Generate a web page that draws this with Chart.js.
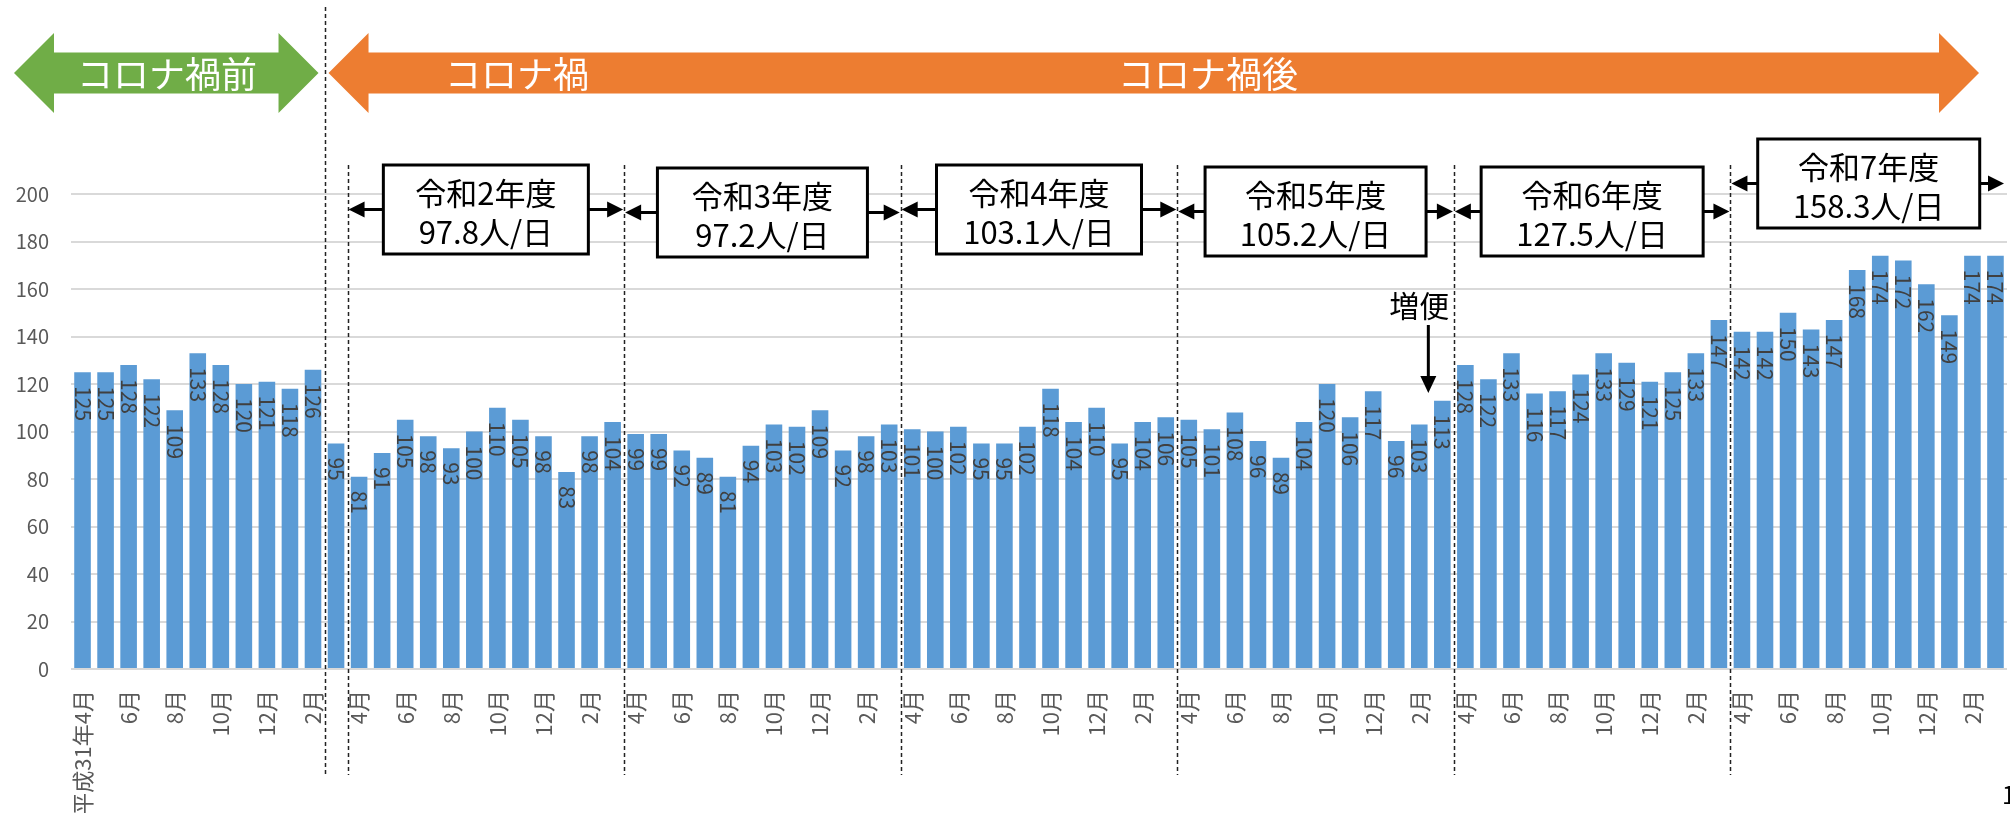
<!DOCTYPE html>
<html lang="ja">
<head>
<meta charset="utf-8">
<title>利用者数の推移</title>
<script src="https://cdn.jsdelivr.net/npm/chart.js@4.4.1/dist/chart.umd.min.js"></script>
<style>
  html, body { margin: 0; padding: 0; background: #fff; }
  #wrap { width: 2010px; height: 813px; }
</style>
</head>
<body>
<div id="wrap"><canvas id="chart" width="2010" height="813"></canvas></div>
<script>
// 月ラベル(年度は4月始まり)
const fyMonths = ["4月", "5月", "6月", "7月", "8月", "9月", "10月", "11月", "12月", "1月", "2月", "3月"];
const firstLabel = "平成31年4月";

// 月別 1日あたり人数
const countsH31 = [125, 125, 128, 122, 109, 133, 128, 120, 121, 118, 126, 95];
const countsR2 = [81, 91, 105, 98, 93, 100, 110, 105, 98, 83, 98, 104];
const countsR3 = [99, 99, 92, 89, 81, 94, 103, 102, 109, 92, 98, 103];
const countsR4 = [101, 100, 102, 95, 95, 102, 118, 104, 110, 95, 104, 106];
const countsR5 = [105, 101, 108, 96, 89, 104, 120, 106, 117, 96, 103, 113];
const countsR6 = [128, 122, 133, 116, 117, 124, 133, 129, 121, 125, 133, 147];
const countsR7 = [142, 142, 150, 143, 147, 168, 174, 172, 162, 149, 174, 174];

// 年度ボックス
const fiscalNames = ["令和2年度", "令和3年度", "令和4年度", "令和5年度", "令和6年度", "令和7年度"];
const fiscalAverages = ["97.8", "97.2", "103.1", "105.2", "127.5", "158.3"];

const periodNames = ["コロナ禍前", "コロナ禍", "コロナ禍後"];
const noteText = "増便";

const yTicks = [0, 20, 40, 60, 80, 100, 120, 140, 160, 180, 200];

const labels = [firstLabel, ...fyMonths.slice(1)];
for (let i = 0; i < 6; i++) labels.push(...fyMonths);
const values = [].concat(countsH31, countsR2, countsR3, countsR4, countsR5, countsR6, countsR7);

const JP = "'Noto Sans CJK JP', 'Noto Sans', sans-serif";
Chart.defaults.font.family = JP;

function arrowHead(ctx, x, y, dir, len, half) {
  // dir: 1 = 右向き, -1 = 左向き
  ctx.beginPath();
  ctx.moveTo(x, y);
  ctx.lineTo(x - dir * len, y - half);
  ctx.lineTo(x - dir * len, y + half);
  ctx.closePath();
  ctx.fill();
}

function bigArrow(ctx, x1, x2, cy, color) {
  const shaft = 20.5, head = 40, hl = 40;
  ctx.fillStyle = color;
  ctx.beginPath();
  ctx.moveTo(x1, cy);
  ctx.lineTo(x1 + hl, cy - head);
  ctx.lineTo(x1 + hl, cy - shaft);
  ctx.lineTo(x2 - hl, cy - shaft);
  ctx.lineTo(x2 - hl, cy - head);
  ctx.lineTo(x2, cy);
  ctx.lineTo(x2 - hl, cy + head);
  ctx.lineTo(x2 - hl, cy + shaft);
  ctx.lineTo(x1 + hl, cy + shaft);
  ctx.lineTo(x1 + hl, cy + head);
  ctx.closePath();
  ctx.fill();
}

const decorations = {
  id: "decorations",
  afterDatasetsDraw(chart) {
    const ctx = chart.ctx;
    const meta = chart.getDatasetMeta(0);
    // データラベル(縦書き回転)
    ctx.save();
    ctx.fillStyle = "#404040";
    ctx.font = "21px " + JP;
    ctx.textAlign = "left";
    ctx.textBaseline = "middle";
    meta.data.forEach((bar, i) => {
      ctx.save();
      ctx.translate(bar.x, bar.y + 14);
      ctx.rotate(Math.PI / 2);
      ctx.fillText(String(values[i]), 0, 0);
      ctx.restore();
    });
    ctx.restore();
  },
  afterDraw(chart) {
    const ctx = chart.ctx;
    const xs = chart.scales.x;
    const area = chart.chartArea;
    const meta = chart.getDatasetMeta(0);
    const edge = (i) => i >= values.length ? area.right : (xs.getPixelForValue(i - 1) + xs.getPixelForValue(i)) / 2;

    ctx.save();
    // 区切り破線
    ctx.strokeStyle = "#222";
    ctx.lineWidth = 1.5;
    ctx.setLineDash([4, 3]);
    const bounds = [11, 12, 24, 36, 48, 60, 72];
    bounds.forEach((b, k) => {
      const x = Math.round(edge(b)) + 0.5;
      ctx.beginPath();
      ctx.moveTo(x, k === 0 ? 7 : 165);
      ctx.lineTo(x, 775);
      ctx.stroke();
    });
    ctx.setLineDash([]);

    // 上部の大きな矢印
    const split = edge(11);
    bigArrow(ctx, 14, split - 6, 73, "#70AD47");
    bigArrow(ctx, split + 4, 1979, 73, "#ED7D31");
    ctx.fillStyle = "#fff";
    ctx.font = "36px " + JP;
    ctx.textAlign = "center";
    ctx.textBaseline = "middle";
    ctx.fillText(periodNames[0], 167, 74);
    ctx.fillText(periodNames[1], 517, 74);
    ctx.fillText(periodNames[2], 1208, 74);

    // 年度ボックス
    const widths = [205, 210, 205, 221, 222, 222];
    const tops = [165, 168, 165, 167, 167, 139];
    const boxH = 89;
    fiscalNames.forEach((name, k) => {
      const s = 12 + k * 12;
      const l = edge(s), r = edge(s + 12);
      const cx = (l + r) / 2;
      const bx = cx - widths[k] / 2, bw = widths[k], by = tops[k];
      const ay = by + boxH / 2;
      const rightTip = k === fiscalNames.length - 1 ? 2005 : r;

      ctx.strokeStyle = "#000";
      ctx.fillStyle = "#000";
      ctx.lineWidth = 3;
      ctx.beginPath();
      ctx.moveTo(bx, ay);
      ctx.lineTo(l + 10, ay);
      ctx.moveTo(bx + bw, ay);
      ctx.lineTo(rightTip - 10, ay);
      ctx.stroke();
      arrowHead(ctx, l + 1, ay, -1, 16, 8);
      arrowHead(ctx, rightTip - 1, ay, 1, 16, 8);

      ctx.fillStyle = "#fff";
      ctx.fillRect(bx, by, bw, boxH);
      ctx.strokeRect(bx, by, bw, boxH);

      ctx.fillStyle = "#000";
      ctx.font = "31px " + JP;
      ctx.textAlign = "center";
      ctx.textBaseline = "middle";
      ctx.fillText(name, cx, by + 28);
      ctx.fillText(fiscalAverages[k] + "人/日", cx, by + 67);
    });

    // 増便
    const target = meta.data[59];
    const ax = target.x - 14;
    ctx.fillStyle = "#000";
    ctx.font = "30px " + JP;
    ctx.textAlign = "center";
    ctx.textBaseline = "middle";
    ctx.fillText(noteText, target.x - 23, 306);
    ctx.strokeStyle = "#000";
    ctx.lineWidth = 3;
    ctx.beginPath();
    ctx.moveTo(ax, 325);
    ctx.lineTo(ax, 380);
    ctx.stroke();
    ctx.save();
    ctx.translate(ax, 393);
    ctx.rotate(Math.PI / 2);
    arrowHead(ctx, 0, 0, 1, 17, 8);
    ctx.restore();

    // ページ番号
    ctx.font = "24px " + JP;
    ctx.textAlign = "left";
    ctx.fillText("1", 2002, 795);
    ctx.restore();
  }
};

new Chart(document.getElementById("chart"), {
  type: "bar",
  data: {
    labels,
    datasets: [{
      data: values,
      backgroundColor: "#5B9BD5",
      borderWidth: 0,
      categoryPercentage: 1,
      barPercentage: 0.72
    }]
  },
  options: {
    responsive: false,
    animation: false,
    devicePixelRatio: 1,
    layout: { padding: { top: 194, right: 3, left: 0, bottom: 0 } },
    plugins: { legend: { display: false }, tooltip: { enabled: false } },
    scales: {
      x: {
        grid: { display: false, drawTicks: false },
        border: { display: false },
        ticks: {
          autoSkip: false,
          minRotation: 90,
          maxRotation: 90,
          padding: 21,
          color: "#595959",
          font: { size: 22 },
          callback(value, index) {
            return index % 2 === 0 ? this.getLabelForValue(value) : "";
          }
        },
        afterFit(scale) {
          scale.height = 144;
          scale.paddingLeft = 0;
          scale.paddingRight = 0;
        }
      },
      y: {
        min: 0,
        max: 200,
        afterBuildTicks(scale) { scale.ticks = yTicks.map(v => ({ value: v })); },
        ticks: { padding: 22, color: "#595959", font: { size: 20 } },
        grid: { color: "#D9D9D9", lineWidth: 2, drawTicks: false },
        border: { display: false },
        afterFit(scale) { scale.width = 71; }
      }
    }
  },
  plugins: [decorations]
});
</script>
</body>
</html>
